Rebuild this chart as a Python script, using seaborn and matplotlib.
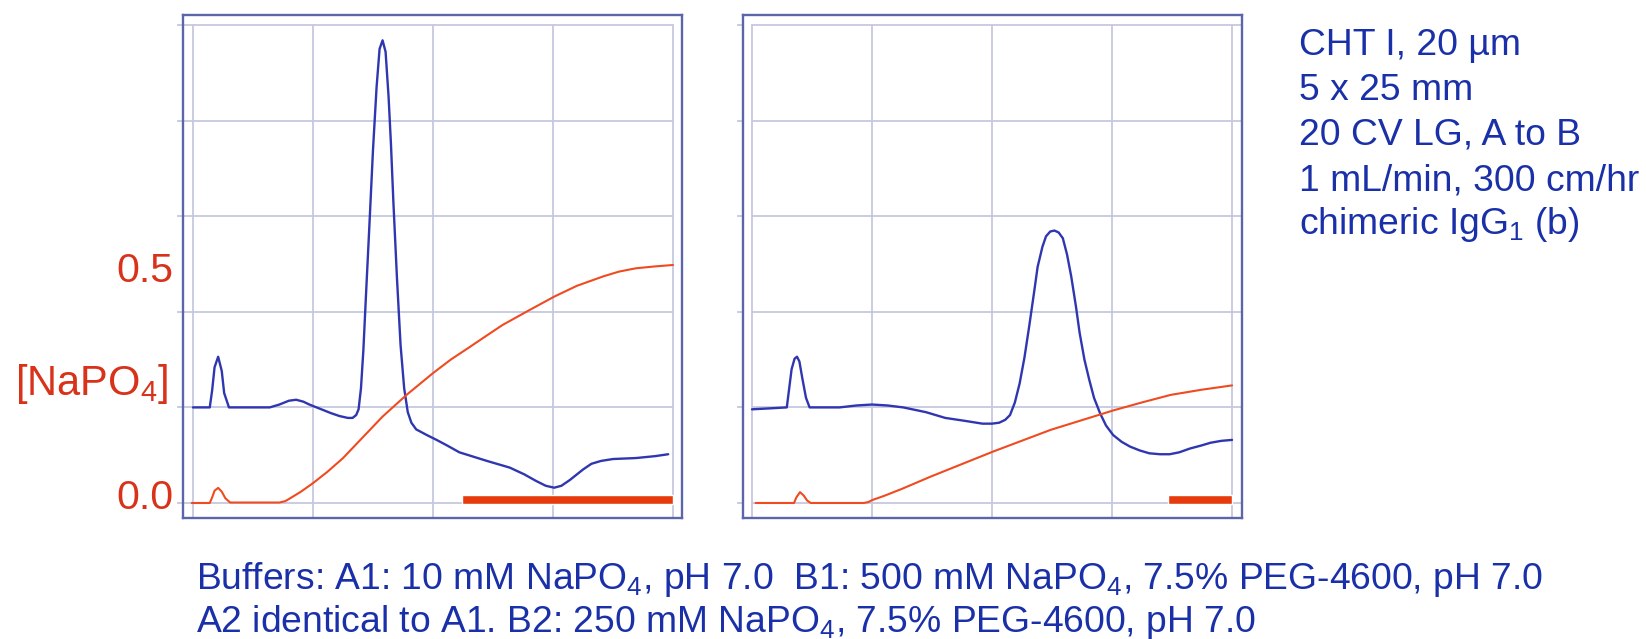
import numpy as np
import pandas as pd
import matplotlib
matplotlib.use("Agg")
import matplotlib.pyplot as plt
from matplotlib import font_manager as fm
from matplotlib.transforms import ScaledTranslation
import seaborn as sns

# ---------------- data (grid units: x 0..4, UV y 0..5; NaPO4 in M) ----------------
uv1_x = [0.00, 0.14, 0.16, 0.18, 0.21, 0.24, 0.26, 0.30, 0.64, 0.72, 0.80, 0.86, 0.92, 0.97,
         1.05, 1.15, 1.22, 1.29, 1.33, 1.36, 1.38, 1.40, 1.42, 1.44, 1.47, 1.50, 1.53, 1.555, 1.58,
         1.605, 1.63, 1.65, 1.67, 1.70, 1.73, 1.76, 1.79, 1.82, 1.86, 1.95, 2.03, 2.12, 2.22, 2.45,
         2.64, 2.76, 2.86, 2.94, 3.01, 3.07, 3.14, 3.25, 3.32, 3.40, 3.50, 3.69, 3.85, 3.96]
uv1_y = [1.00, 1.00, 1.18, 1.42, 1.53, 1.38, 1.15, 1.00, 1.00, 1.03, 1.07, 1.08, 1.06, 1.03,
         0.99, 0.94, 0.91, 0.89, 0.89, 0.92, 0.98, 1.20, 1.60, 2.13, 2.90, 3.69, 4.35, 4.75, 4.84,
         4.72, 4.25, 3.75, 3.15, 2.35, 1.65, 1.20, 0.95, 0.84, 0.77, 0.71, 0.66, 0.60, 0.53, 0.44,
         0.37, 0.30, 0.23, 0.18, 0.16, 0.18, 0.24, 0.35, 0.41, 0.44, 0.46, 0.47, 0.49, 0.51]
na1_x = [-0.01, 0.14, 0.16, 0.18, 0.21, 0.24, 0.27, 0.31, 0.72, 0.77, 0.81, 0.90, 1.00, 1.12, 1.25,
         1.40, 1.58, 1.78, 2.00, 2.15, 2.31, 2.45, 2.58, 2.80, 3.01, 3.20, 3.42, 3.55, 3.69, 3.85, 4.00]
na1_y = [0.000, 0.000, 0.012, 0.026, 0.032, 0.024, 0.010, 0.001, 0.001, 0.004, 0.010, 0.024, 0.042,
         0.066, 0.095, 0.135, 0.183, 0.229, 0.275, 0.304, 0.331, 0.355, 0.377, 0.408, 0.437, 0.460,
         0.480, 0.490, 0.497, 0.501, 0.504]
frac1 = (2.24, 4.00)

uv2_x = [0.00, 0.15, 0.29, 0.31, 0.33, 0.355, 0.375, 0.395, 0.42, 0.45, 0.48, 0.60, 0.73, 0.87, 1.00,
         1.13, 1.26, 1.45, 1.61, 1.77, 1.92, 2.00, 2.06, 2.11, 2.15, 2.19, 2.23, 2.27, 2.31, 2.35,
         2.38, 2.42, 2.45, 2.485, 2.52, 2.555, 2.59, 2.625, 2.66, 2.70, 2.73, 2.77, 2.81, 2.85, 2.90,
         2.95, 3.01, 3.08, 3.15, 3.23, 3.31, 3.40, 3.48, 3.56, 3.65, 3.74, 3.82, 3.91, 4.00]
uv2_y = [0.98, 0.99, 1.00, 1.20, 1.40, 1.51, 1.53, 1.48, 1.30, 1.10, 1.00, 1.00, 1.00, 1.02, 1.03,
         1.02, 1.00, 0.95, 0.89, 0.86, 0.83, 0.83, 0.84, 0.87, 0.92, 1.05, 1.25, 1.52, 1.85, 2.20,
         2.47, 2.68, 2.79, 2.84, 2.85, 2.83, 2.77, 2.60, 2.37, 2.05, 1.78, 1.50, 1.29, 1.10, 0.94,
         0.81, 0.71, 0.64, 0.59, 0.55, 0.52, 0.51, 0.51, 0.53, 0.57, 0.60, 0.63, 0.65, 0.66]
na2_x = [0.03, 0.35, 0.37, 0.40, 0.43, 0.46, 0.49, 0.93, 0.97, 1.00, 1.10, 1.25, 1.49, 2.01, 2.49,
         3.01, 3.25, 3.49, 3.75, 4.00]
na2_y = [0.000, 0.000, 0.012, 0.023, 0.016, 0.005, 0.000, 0.000, 0.002, 0.006, 0.015, 0.030, 0.056,
         0.109, 0.155, 0.196, 0.213, 0.229, 0.240, 0.249]
frac2 = (3.47, 4.00)

conc_ticks = [0.0, 0.5]
conc_labels = ["0.0", "0.5"]
info_lines = ["CHT I, 20 µm", "5 x 25 mm", "20 CV LG, A to B", "1 mL/min, 300 cm/hr",
              r"chimeric IgG$_\mathregular{1}$ (b)"]
buffer_lines = [r"Buffers: A1: 10 mM NaPO$_\mathregular{4}$, pH 7.0  B1: 500 mM NaPO$_\mathregular{4}$, 7.5% PEG-4600, pH 7.0",
                r"A2 identical to A1. B2: 250 mM NaPO$_\mathregular{4}$, 7.5% PEG-4600, pH 7.0"]

# ---------------- style ----------------
sns.set_theme(style="white")
plt.rcParams['font.family'] = ['Liberation Sans', 'DejaVu Sans']
plt.rcParams['mathtext.fontset'] = 'custom'
plt.rcParams['mathtext.rm'] = 'Liberation Sans'
plt.rcParams['mathtext.it'] = 'Liberation Sans:italic'
plt.rcParams['mathtext.bf'] = 'Liberation Sans:bold'

narrow = None
try:
    path = fm.findfont(fm.FontProperties(family='Liberation Sans Narrow'), fallback_to_default=False)
    if 'Narrow' in path:
        narrow = 'Liberation Sans Narrow'
except Exception:
    narrow = None

BLUE = '#2f36b0'
TXT_BLUE = '#1a30a8'
ORANGE = '#f04a20'
BAR = '#e63b0c'
RED = '#d8321a'
GRID = '#c6c8df'
FRAME = '#5c64aa'

W, H = 1646, 639
fig = plt.figure(figsize=(W / 100, H / 100), dpi=100)

YLIM = (-0.157, 5.105)
C_PER_UNIT = 0.5 / 2.47
CLIM = (YLIM[0] * C_PER_UNIT, YLIM[1] * C_PER_UNIT)

panels = [
    dict(left=183, right=682, xlim=(-0.083, 4.075), uvx=uv1_x, uvy=uv1_y, nx=na1_x, ny=na1_y, frac=frac1, side='left'),
    dict(left=743, right=1242, xlim=(-0.075, 4.083), uvx=uv2_x, uvy=uv2_y, nx=na2_x, ny=na2_y, frac=frac2, side='right'),
]
top, bottom = 15, 518

for i, p in enumerate(panels):
    ax = fig.add_axes([p['left'] / W, 1 - bottom / H, (p['right'] - p['left']) / W, (bottom - top) / H])
    ax.set_xlim(*p['xlim'])
    ax.set_ylim(*YLIM)
    for gx in range(5):
        ax.axvline(gx, ymin=0, ymax=(5 - YLIM[0]) / (YLIM[1] - YLIM[0]), color=GRID, lw=1.3, zorder=0)
    for gy in range(6):
        if p['side'] == 'left':
            ax.axhline(gy, xmin=0, xmax=(4 - p['xlim'][0]) / (p['xlim'][1] - p['xlim'][0]), color=GRID, lw=1.3, zorder=0)
        else:
            ax.axhline(gy, xmin=(0 - p['xlim'][0]) / (p['xlim'][1] - p['xlim'][0]), xmax=1, color=GRID, lw=1.3, zorder=0)
    ax.set_xticks([])
    ax.set_yticks(range(6))
    ax.set_yticklabels([])
    ax.yaxis.set_ticks_position(p['side'])
    ax.tick_params(axis='y', direction='out', length=4.5, width=1.3, color=GRID)
    for s in ax.spines.values():
        s.set_color(FRAME)
        s.set_linewidth(1.7)

    ax.barh(0.037, p['frac'][1] - p['frac'][0], left=p['frac'][0], height=0.094, color=BAR, zorder=2)

    df_uv = pd.DataFrame({'x': p['uvx'], 'y': p['uvy']})
    sns.lineplot(data=df_uv, x='x', y='y', ax=ax, color=BLUE, lw=1.7, sort=False, estimator=None, zorder=4)
    ax.set_xlabel('')
    ax.set_ylabel('')

    ax2 = ax.twinx()
    ax2.set_ylim(*CLIM)
    df_na = pd.DataFrame({'x': p['nx'], 'c': p['ny']})
    sns.lineplot(data=df_na, x='x', y='c', ax=ax2, color=ORANGE, lw=1.5, sort=False, estimator=None, zorder=3)
    ax2.set_xlim(*p['xlim'])
    ax2.set_xlabel('')
    ax2.set_ylabel('')
    for s in ax2.spines.values():
        s.set_visible(False)
    if p['side'] == 'left':
        ax2.yaxis.set_ticks_position('left')
        ax2.set_yticks(conc_ticks)
        ax2.set_yticklabels(conc_labels)
        ax2.tick_params(axis='y', length=0, pad=7, labelsize=29.5, labelcolor=RED)
        t0 = ax2.yaxis.get_major_ticks()[0]
        t0.label1.set_transform(t0.label1.get_transform() + ScaledTranslation(0, 0.09, fig.dpi_scale_trans))
    else:
        ax2.set_yticks([])

fig.text(15 / W, 1 - 395 / H, r"[NaPO$_\mathregular{4}$]", color=RED, fontsize=30, ha='left', va='baseline')

for t, yy in zip(info_lines, [55, 100, 145, 190, 234]):
    fig.text(1299 / W, 1 - yy / H, t, color=TXT_BLUE, fontsize=26.8, ha='left', va='baseline')

if narrow:
    bprops = dict(family=[narrow, 'Liberation Sans', 'DejaVu Sans'], fontsize=31.5)
else:
    bprops = dict(fontsize=26.8)
for t, yy in zip(buffer_lines, [589, 632]):
    fig.text(196 / W, 1 - yy / H, t, color=TXT_BLUE, ha='left', va='baseline', **bprops)

fig.savefig('out.png', dpi=100)
